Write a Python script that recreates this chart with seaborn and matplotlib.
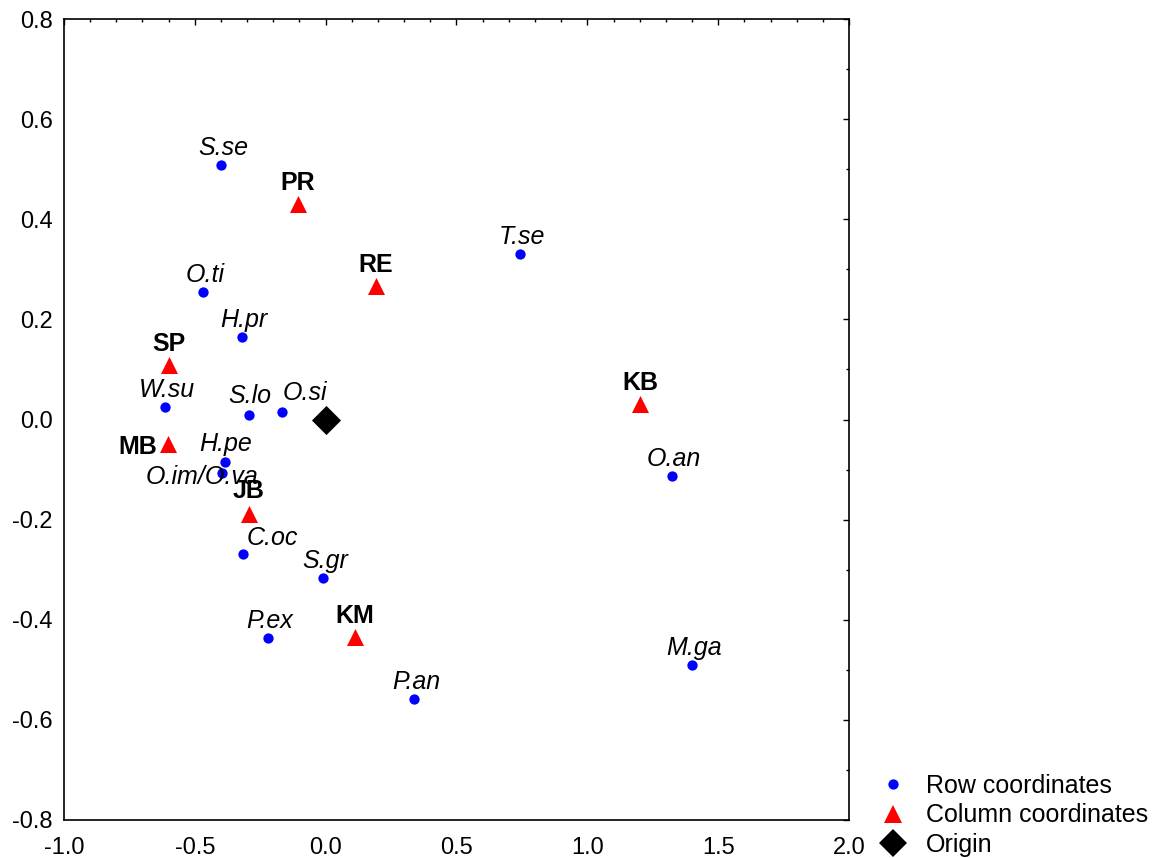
import matplotlib
matplotlib.use("Agg")
import matplotlib.pyplot as plt
from matplotlib.lines import Line2D
from matplotlib.ticker import MultipleLocator, FormatStrFormatter
import seaborn as sns
import pandas as pd

# ---- data ----
row_labels = ["S.se", "T.se", "O.ti", "H.pr", "W.su", "S.lo", "O.si", "H.pe",
              "O.im/O.va", "C.oc", "S.gr", "P.ex", "P.an", "O.an", "M.ga"]
row_x = [-0.400, 0.742, -0.469, -0.320, -0.614, -0.293, -0.167, -0.385,
         -0.397, -0.316, -0.010, -0.220, 0.337, 1.323, 1.400]
row_y = [0.508, 0.331, 0.255, 0.165, 0.025, 0.009, 0.015, -0.084,
         -0.106, -0.269, -0.317, -0.436, -0.558, -0.113, -0.490]

col_labels = ["PR", "RE", "SP", "MB", "JB", "KB", "KM"]
col_x = [-0.106, 0.192, -0.599, -0.604, -0.293, 1.201, 0.112]
col_y = [0.431, 0.267, 0.109, -0.048, -0.189, 0.031, -0.434]

origin_x = [0.0]
origin_y = [0.0]

legend_labels = ["Row coordinates", "Column coordinates", "Origin"]

# label offsets in pixels (dx, dy of text baseline-center relative to point)
row_offsets = {"O.si": (23, 12), "O.im/O.va": (-20, -11), "C.oc": (29, 9),
               "S.lo": (1, 12), "H.pe": (1, 11)}
col_offsets = {"MB": (-30, -10), "JB": (0, 16)}

sns.set_style("white")
plt.rcParams["font.family"] = ["Liberation Sans", "DejaVu Sans"]
plt.rcParams["axes.unicode_minus"] = False
plt.rcParams["text.color"] = "black"
plt.rcParams["xtick.color"] = "black"
plt.rcParams["ytick.color"] = "black"

fig = plt.figure(figsize=(11.6, 8.58), dpi=100)
ax = fig.add_axes([64 / 1160, 38 / 858, 785 / 1160, 801 / 858])

rows = pd.DataFrame({"x": row_x, "y": row_y, "label": row_labels})
cols = pd.DataFrame({"x": col_x, "y": col_y, "label": col_labels})
orig = pd.DataFrame({"x": origin_x, "y": origin_y})

sns.scatterplot(data=rows, x="x", y="y", ax=ax, color="#0000ff", marker="o",
                s=55, linewidth=0, zorder=3, legend=False)
sns.scatterplot(data=cols, x="x", y="y", ax=ax, color="#ff0000", marker="^",
                s=150, linewidth=0, zorder=3, legend=False)
sns.scatterplot(data=orig, x="x", y="y", ax=ax, color="black", marker="D",
                s=220, linewidth=0, zorder=3, legend=False)

for lab, x, y in zip(row_labels, row_x, row_y):
    dx, dy = row_offsets.get(lab, (2, 10))
    ax.annotate(lab, (x, y), xytext=(dx, dy), textcoords="offset pixels",
                ha="center", va="baseline", fontsize=18, style="italic",
                color="black")
for lab, x, y in zip(col_labels, col_x, col_y):
    dx, dy = col_offsets.get(lab, (0, 14))
    ax.annotate(lab, (x, y), xytext=(dx, dy), textcoords="offset pixels",
                ha="center", va="baseline", fontsize=18, fontweight="bold",
                color="black")

ax.set_xlim(-1.0, 2.0)
ax.set_ylim(-0.8, 0.8)
ax.xaxis.set_major_locator(MultipleLocator(0.5))
ax.xaxis.set_minor_locator(MultipleLocator(0.1))
ax.yaxis.set_major_locator(MultipleLocator(0.2))
ax.yaxis.set_minor_locator(MultipleLocator(0.1))
ax.xaxis.set_major_formatter(FormatStrFormatter("%.1f"))
ax.yaxis.set_major_formatter(FormatStrFormatter("%.1f"))
ax.tick_params(which="both", direction="in", top=True, right=True,
               colors="black", labelsize=17, width=1.0)
ax.tick_params(which="major", length=4)
ax.tick_params(axis="y", which="major", pad=8)
ax.tick_params(axis="x", which="major", pad=12)
ax.tick_params(which="minor", length=2.5)
ax.set_xlabel("")
ax.set_ylabel("")
for sp in ax.spines.values():
    sp.set_color("black")
    sp.set_linewidth(1.2)

handles = [
    Line2D([], [], linestyle="none", marker="o", color="#0000ff", markersize=7.4,
           markeredgewidth=0),
    Line2D([], [], linestyle="none", marker="^", color="#ff0000", markersize=12.5,
           markeredgewidth=0),
    Line2D([], [], linestyle="none", marker="D", color="black", markersize=14.5,
           markeredgewidth=0),
]
fig.legend(handles, legend_labels, loc="lower left",
           bbox_to_anchor=(857 / 1160, -0.019),
           frameon=False, fontsize=18, labelspacing=0.22, handletextpad=0.54,
           borderpad=0.2, handlelength=1.5)

fig.savefig("out.png", dpi=100)
